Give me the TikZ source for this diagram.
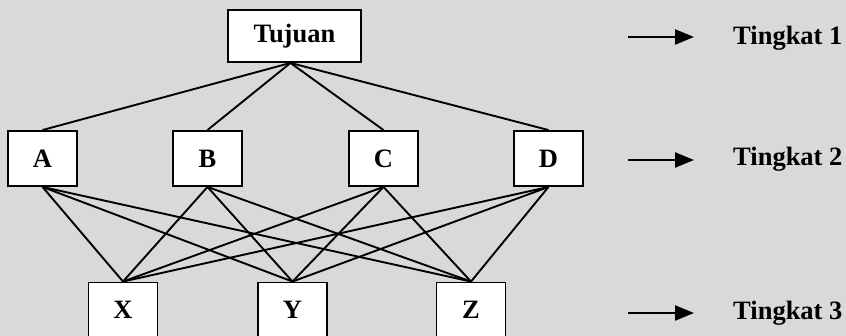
\documentclass[tikz,border=0pt]{standalone}
\usepackage{fontspec}
\setmainfont{Liberation Serif}
\usetikzlibrary{arrows.meta}
\begin{document}
\begin{tikzpicture}[x=1pt,y=-1pt,
  every node/.style={font=\fontsize{26.5}{30}\selectfont\bfseries},
  box/.style={draw,line width=1.9pt,fill=white,inner sep=0pt,
    minimum width=69pt,minimum height=55pt},
  link/.style={line width=1.9pt},
  levelarrow/.style={line width=2.4pt,-{Triangle[length=19pt,width=15pt]}},
  levellabel/.style={anchor=base west,inner sep=0pt}]
  % canvas
  \fill[fill={rgb,255:red,217;green,217;blue,217}] (0,0) rectangle (846,336);
  \useasboundingbox (0,0) rectangle (846,336);

  % level 1: goal
  \node[box,minimum width=133pt,minimum height=52pt] (tuj) at (294.5,36) {Tujuan};

  % level 2: criteria
  \node[box] (A) at (42.5,158.5) {A};
  \node[box] (B) at (207.5,158.5) {B};
  \node[box] (C) at (383.5,158.5) {C};
  \node[box] (D) at (548.5,158.5) {D};

  % level 3: alternatives
  \node[box] (X) at (123,310) {X};
  \node[box] (Y) at (292.5,310) {Y};
  \node[box] (Z) at (471,310) {Z};

  % goal to criteria
  \foreach \c in {A,B,C,D}
    \draw[link] ([xshift=-4pt]tuj.south) -- (\c.north);

  % criteria to alternatives
  \foreach \c in {A,B,C,D}
    \foreach \a in {X,Y,Z}
      \draw[link] (\c.south) -- (\a.north);

  % level markers
  \coordinate (s1) at (628,37);  \coordinate (e1) at (694,37);
  \coordinate (s2) at (628,160); \coordinate (e2) at (694,160);
  \coordinate (s3) at (628,313); \coordinate (e3) at (694,313);
  \draw[levelarrow] (s1) -- (e1);
  \draw[levelarrow] (s2) -- (e2);
  \draw[levelarrow] (s3) -- (e3);
  \node[levellabel] (t1) at (733,45) {Tingkat 1};
  \node[levellabel] (t2) at (733,166) {Tingkat 2};
  \node[levellabel] (t3) at (733,320) {Tingkat 3};
\end{tikzpicture}
\end{document}
